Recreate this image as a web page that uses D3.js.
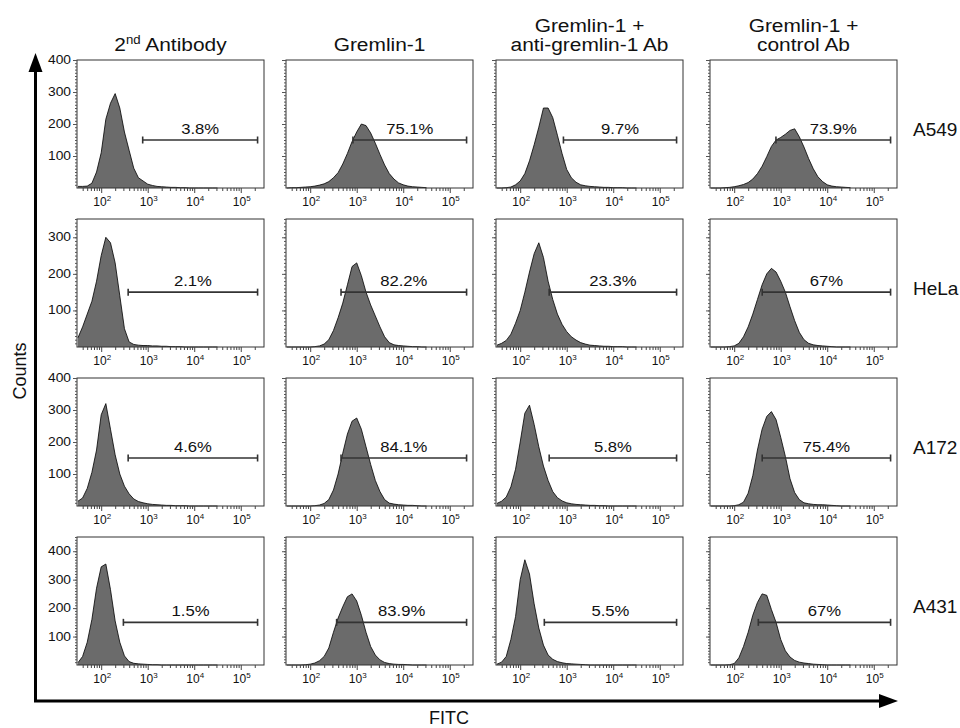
<!DOCTYPE html>
<html>
<head>
<meta charset="utf-8">
<script src="https://cdn.jsdelivr.net/npm/d3@7"></script>
<style>
  html, body { margin: 0; padding: 0; background: #fff; }
  svg { display: block; font-family: "Liberation Sans", Arial, Helvetica, sans-serif; }
</style>
</head>
<body>
<svg id="chart" width="960" height="728"></svg>
<script>
// ---------------- DATA ----------------
const cellLines = ["A549", "HeLa", "A172", "A431"];
const treatmentLines = [
  ["2nd Antibody"],
  ["Gremlin-1"],
  ["Gremlin-1 +", "anti-gremlin-1 Ab"],
  ["Gremlin-1 +", "control Ab"]
];
// log10(FITC) bin centres shared by all histograms
const binLogs = [1.5,1.6,1.7,1.8,1.9,2.0,2.1,2.2,2.3,2.4,2.5,2.6,2.7,2.8,2.9,3.0,
                 3.1,3.2,3.3,3.4,3.5,3.6,3.7,3.8,3.9,4.0,4.1,4.2,4.3,4.4,4.5];
// counts per bin, one array per treatment column
const countsA549 = [
  [5,5,6,15,50,110,215,265,295,250,175,118,62,32,22,12,8,5,4,3,2,2,1,1,0,0,0,0,0,0,0],
  [0,1,1,2,3,4,6,9,13,20,32,48,75,108,145,175,200,195,172,140,105,72,45,28,16,10,6,4,3,2,1],
  [0,0,1,3,10,22,45,85,135,190,250,250,220,165,108,58,32,18,10,7,5,4,3,2,2,1,1,1,0,0,0],
  [0,0,0,1,2,4,7,11,17,28,45,68,98,130,150,158,168,180,185,160,128,92,60,35,20,10,6,4,3,2,1]
];
const countsHeLa = [
  [25,55,90,125,180,250,300,285,230,140,50,14,7,5,4,4,3,3,2,2,1,1,1,0,0,0,0,0,0,0,0],
  [0,0,0,0,0,0,1,3,8,20,45,80,120,170,220,230,195,150,115,85,55,28,12,6,4,3,2,1,1,0,0],
  [5,10,18,35,65,100,150,205,255,285,245,180,130,90,62,42,28,19,12,8,5,4,3,2,2,1,1,1,0,0,0],
  [0,0,0,0,1,3,10,28,55,90,130,170,200,215,205,180,150,110,72,40,20,10,6,4,3,2,1,0,0,0,0]
];
const countsA172 = [
  [15,25,55,105,175,285,320,240,160,100,62,38,22,14,10,7,5,4,3,2,2,1,1,1,0,0,0,0,0,0,0],
  [0,0,0,0,0,0,1,3,8,20,50,100,165,225,265,275,240,185,130,80,45,20,9,6,4,3,2,2,1,0,0],
  [8,15,28,60,115,200,290,315,255,185,125,80,45,26,16,10,7,5,4,3,2,2,1,1,0,0,0,0,0,0,0],
  [0,0,0,0,0,1,4,12,40,95,175,240,280,295,270,215,155,85,42,20,10,7,5,4,4,3,2,1,0,0,0]
];
const countsA431 = [
  [8,30,80,160,270,345,355,265,155,80,32,12,6,4,3,2,1,1,0,0,0,0,0,0,0,0,0,0,0,0,0],
  [0,0,0,0,1,3,7,15,30,60,115,165,205,240,250,225,175,115,65,35,18,9,5,3,2,2,1,0,0,0,0],
  [3,10,30,90,170,300,370,320,215,130,70,35,20,12,8,5,4,3,2,1,0,0,0,0,0,0,0,0,0,0,0],
  [0,0,0,0,1,5,25,65,115,175,220,250,245,195,150,90,50,28,16,10,7,5,3,2,1,0,0,0,0,0,0]
];
const countsByRow = [countsA549, countsHeLa, countsA172, countsA431];
const yMaxByRow = [400, 350, 400, 450];
const yTickLabelsByRow = [[100,200,300,400],[100,200,300],[100,200,300,400],[100,200,300,400]];
const gateStart = [
  [780, 830, 850, 790],
  [380, 460, 420, 400],
  [380, 460, 420, 400],
  [300, 370, 330, 330]
];
const gateEnd = 230000;
const gateCount = 150;
const gatePct = [
  ["3.8%", "75.1%", "9.7%", "73.9%"],
  ["2.1%", "82.2%", "23.3%", "67%"],
  ["4.6%", "84.1%", "5.8%", "75.4%"],
  ["1.5%", "83.9%", "5.5%", "67%"]
];
const xMajorTicks = [100, 1000, 10000, 100000];
const xDomain = [30.2, 316000];
const yAxisTitle = "Counts";
const xAxisTitle = "FITC";

// ---------------- LAYOUT ----------------
const svg = d3.select("#chart");
const colX = [77, 286, 496, 710];
const rowY = [60, 219, 378, 537];
const pw = 187, ph = 128;
const textColor = "#111";

function stretchText(g, x, y, size, anchor, sx) {
  return g.append("text")
    .attr("transform", `translate(${x},${y}) scale(${sx},1)`)
    .attr("text-anchor", anchor)
    .attr("font-size", size)
    .attr("fill", textColor);
}

const x = d3.scaleLog().domain(xDomain).range([0, pw]);
const minorTicks = x.ticks().filter(v => v < 270000 && xMajorTicks.indexOf(v) < 0);

// ---------------- HEADERS ----------------
treatmentLines.forEach((lines, c) => {
  const cx = colX[c] + pw / 2;
  const base = 51;
  lines.forEach((ln, i) => {
    const yy = base - (lines.length - 1 - i) * 19;
    const t = stretchText(svg, cx, yy, 19, "middle", 1.1);
    const m = ln.match(/^(\d)(nd)(.*)$/);
    if (m) {
      t.append("tspan").text(m[1]);
      t.append("tspan").attr("font-size", 12).attr("dy", -7).text(m[2]);
      t.append("tspan").attr("dy", 7).text(m[3]);
    } else {
      t.text(ln);
    }
  });
});

// ---------------- PANELS ----------------
cellLines.forEach((cell, r) => {
  const y = d3.scaleLinear().domain([0, yMaxByRow[r]]).range([ph, 0]);
  const counts = countsByRow[r];
  for (let c = 0; c < 4; c++) {
    const g = svg.append("g").attr("transform", `translate(${colX[c]},${rowY[r]})`);
    const pts = binLogs.map((lg, i) => ({ v: Math.pow(10, lg), n: counts[c][i] }));

    const area = d3.area().x(d => x(d.v)).y0(y(0)).y1(d => y(d.n));
    const line = d3.line().x(d => x(d.v)).y(d => y(d.n));
    g.append("path").datum(pts).attr("d", area).attr("fill", "#6b6b6b");
    g.append("path").datum(pts).attr("d", line)
      .attr("fill", "none").attr("stroke", "#000").attr("stroke-width", 0.8);

    // frame
    g.append("rect").attr("x", 0).attr("y", 0).attr("width", pw).attr("height", ph)
      .attr("fill", "none").attr("stroke", "#333").attr("stroke-width", 1);

    // x axis: minor + major ticks
    const xMinor = d3.axisBottom(x).tickValues(minorTicks).tickSize(3).tickFormat("");
    const xMajor = d3.axisBottom(x).tickValues(xMajorTicks).tickSize(5).tickFormat("");
    [xMinor, xMajor].forEach(ax => {
      const a = g.append("g").attr("transform", `translate(0,${ph})`).call(ax);
      a.select(".domain").remove();
      a.selectAll("line").attr("stroke", "#444");
    });
    xMajorTicks.forEach(v => {
      const t = g.append("text").attr("x", x(v) + 1).attr("y", ph + 18)
        .attr("text-anchor", "middle").attr("font-size", 12).attr("fill", textColor);
      t.append("tspan").text("10");
      t.append("tspan").attr("font-size", 8).attr("dy", -5).text(Math.round(Math.log10(v)));
    });

    // y axis: minor ticks every 10, major every 100
    const yMinor = d3.axisLeft(y).tickValues(d3.range(10, yMaxByRow[r] + 1, 10)).tickSize(2).tickFormat("");
    const yMajor = d3.axisLeft(y).tickValues(d3.range(100, yMaxByRow[r] + 1, 100)).tickSize(4).tickFormat("");
    [yMinor, yMajor].forEach(ax => {
      const a = g.append("g").call(ax);
      a.select(".domain").remove();
      a.selectAll("line").attr("stroke", "#555");
    });
    if (c === 0) {
      yTickLabelsByRow[r].forEach(v => {
        stretchText(g, -6, y(v) + 4, 12, "end", 1.15).text(v);
      });
    }

    // gate
    const gx0 = x(gateStart[r][c]), gx1 = x(gateEnd), gy = y(gateCount);
    const gg = g.append("g").attr("stroke", "#333").attr("stroke-width", 1.6);
    gg.append("line").attr("x1", gx0).attr("x2", gx1).attr("y1", gy).attr("y2", gy);
    gg.append("line").attr("x1", gx0).attr("x2", gx0).attr("y1", gy - 3.5).attr("y2", gy + 3.5);
    gg.append("line").attr("x1", gx1).attr("x2", gx1).attr("y1", gy - 3.5).attr("y2", gy + 3.5);
    stretchText(g, (gx0 + gx1) / 2, gy - 6, 14.5, "middle", 1.15).text(gatePct[r][c]);
  }
  // row label
  svg.append("text").attr("x", 913).attr("y", rowY[r] + ph / 2 + 12)
    .attr("font-size", 19).attr("fill", textColor).text(cell);
});

// ---------------- BIG AXES ----------------
const axG = svg.append("g");
axG.append("line").attr("x1", 35.5).attr("x2", 35.5).attr("y1", 702).attr("y2", 68)
  .attr("stroke", "#000").attr("stroke-width", 3);
axG.append("path").attr("d", "M35.5,53 L28.5,72 L42.5,72 Z").attr("fill", "#000");
axG.append("line").attr("x1", 34).attr("x2", 882).attr("y1", 701).attr("y2", 701)
  .attr("stroke", "#000").attr("stroke-width", 3);
axG.append("path").attr("d", "M898,701 L879,694 L879,708 Z").attr("fill", "#000");

svg.append("text").attr("transform", "translate(26,371) rotate(-90)")
  .attr("text-anchor", "middle").attr("font-size", 18).attr("fill", textColor).text(yAxisTitle);
svg.append("text").attr("x", 449).attr("y", 724)
  .attr("text-anchor", "middle").attr("font-size", 18).attr("fill", textColor).text(xAxisTitle);
</script>
</body>
</html>
